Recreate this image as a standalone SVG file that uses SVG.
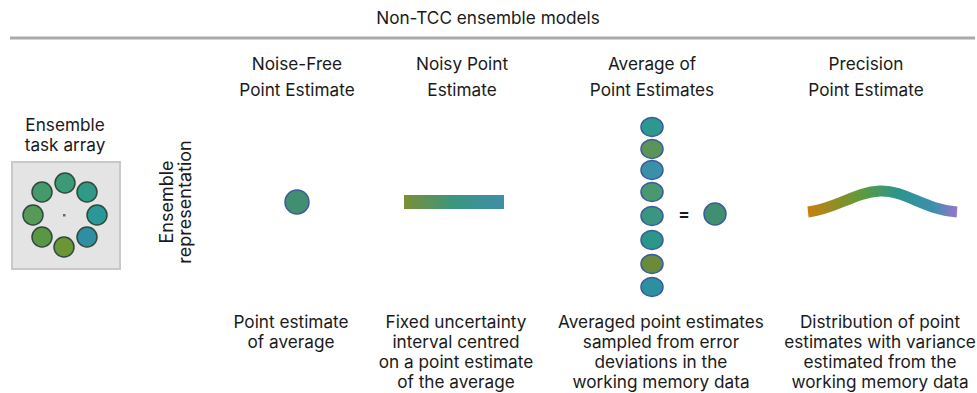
<svg xmlns="http://www.w3.org/2000/svg" width="977" height="393" viewBox="0 0 977 393">
<style>
text{font-family:Inter,Roboto,"Liberation Sans",sans-serif;font-size:17.2px;fill:#1a1a1a;text-anchor:middle}
.vt{font-size:18px}
.ring{stroke:#2f4a3c;stroke-width:1.5}
.pt{stroke:#3a5c9a;stroke-width:1.5}
</style>
<defs>
<linearGradient id="bar" x1="0" x2="1" y1="0" y2="0">
<stop offset="0" stop-color="#7b8f34"/>
<stop offset="0.5" stop-color="#3a9680"/>
<stop offset="1" stop-color="#3f8ea8"/>
</linearGradient>
<linearGradient id="curve" gradientUnits="userSpaceOnUse" x1="808" y1="0" x2="957" y2="0">
<stop offset="0" stop-color="#c7800f"/>
<stop offset="0.35" stop-color="#5f9a3a"/>
<stop offset="0.6" stop-color="#2a968a"/>
<stop offset="0.85" stop-color="#3f8eb0"/>
<stop offset="1" stop-color="#9a74cc"/>
</linearGradient>
</defs>
<text x="488" y="24">Non-TCC ensemble models</text>
<line x1="10" y1="38" x2="975" y2="38" stroke="#aaaaaa" stroke-width="3"/>
<g id="task-array">
<text x="65" y="131">Ensemble</text>
<text x="65" y="151">task array</text>
<rect x="12" y="162" width="108" height="107" fill="#e4e4e4" stroke="#c9c9c9" stroke-width="2"/>
<circle class="ring" cx="65" cy="183" r="10" fill="#3b9a78"/>
<circle class="ring" cx="87" cy="192" r="10" fill="#2f9a88"/>
<circle class="ring" cx="97" cy="215" r="10" fill="#2a9898"/>
<circle class="ring" cx="87" cy="237" r="10" fill="#2f8fa2"/>
<circle class="ring" cx="64" cy="247" r="10" fill="#6c9636"/>
<circle class="ring" cx="42" cy="237" r="10" fill="#5a9646"/>
<circle class="ring" cx="33" cy="215" r="10" fill="#579a58"/>
<circle class="ring" cx="42" cy="192" r="10" fill="#459a6c"/>
<rect x="63" y="214" width="2.5" height="2.5" fill="#666"/>
</g>
<g id="ensemble-representation">
<text class="vt" transform="translate(173,202) rotate(-90)">Ensemble</text>
<text class="vt" transform="translate(191,202) rotate(-90)">representation</text>
</g>
<g id="noise-free">
<text x="297" y="70">Noise-Free</text>
<text x="297" y="96">Point Estimate</text>
<circle class="pt" cx="297" cy="202" r="12" fill="#3f8f70"/>
<text x="291" y="328">Point estimate</text>
<text x="291" y="348">of average</text>
</g>
<g id="noisy">
<text x="462" y="70">Noisy Point</text>
<text x="462" y="96">Estimate</text>
<rect x="404" y="195" width="100" height="14" fill="url(#bar)"/>
<text x="456" y="328">Fixed uncertainty</text>
<text x="456" y="348">interval centred</text>
<text x="456" y="368">on a point estimate</text>
<text x="456" y="388">of the average</text>
</g>
<g id="average">
<text x="652" y="70">Average of</text>
<text x="652" y="96">Point Estimates</text>
<ellipse class="pt" cx="652" cy="127" rx="11" ry="9.5" fill="#2c9890"/>
<ellipse class="pt" cx="652" cy="149" rx="11" ry="9.5" fill="#5a9458"/>
<ellipse class="pt" cx="652" cy="170" rx="11" ry="9.5" fill="#3a90a8" stroke="#2f4a3c"/>
<ellipse class="pt" cx="652" cy="192" rx="11" ry="9.5" fill="#4a9870"/>
<ellipse class="pt" cx="652" cy="216" rx="11" ry="9.5" fill="#3a9680"/>
<ellipse class="pt" cx="652" cy="240" rx="11" ry="9.5" fill="#2c968a" stroke="#2f4a3c"/>
<ellipse class="pt" cx="652" cy="264" rx="11" ry="9.5" fill="#6a8a3c"/>
<ellipse class="pt" cx="652" cy="287" rx="11" ry="9.5" fill="#2c90a0" stroke="#2f4a3c"/>
<text x="684" y="220" style="font-weight:bold;font-size:17px">=</text>
<circle class="pt" cx="715" cy="214" r="11" fill="#3f8f70"/>
<text x="661" y="328">Averaged point estimates</text>
<text x="661" y="348">sampled from error</text>
<text x="661" y="368">deviations in the</text>
<text x="661" y="388">working memory data</text>
</g>
<g id="precision">
<text x="866" y="70">Precision</text>
<text x="866" y="96">Point Estimate</text>
<path d="M808,212 C835,209 855,192 880,191 C905,190 925,210 957,212" fill="none" stroke="url(#curve)" stroke-width="11"/>
<text x="880" y="328">Distribution of point</text>
<text x="880" y="348">estimates with variance</text>
<text x="880" y="368">estimated from the</text>
<text x="880" y="388">working memory data</text>
</g>
<g id="connectors"></g>
</svg>
